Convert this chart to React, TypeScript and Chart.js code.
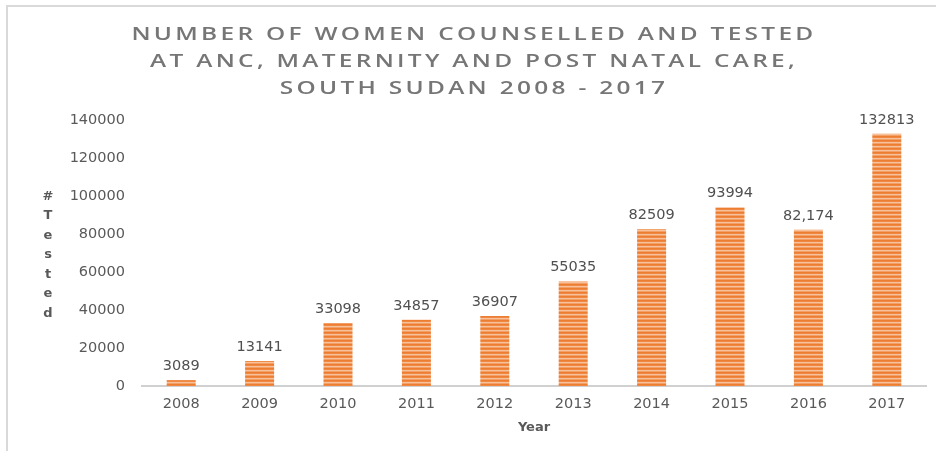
import React, { useEffect, useRef } from "react";
import { Chart, registerables } from "chart.js";

Chart.register(...registerables);

const years = ["2008", "2009", "2010", "2011", "2012", "2013", "2014", "2015", "2016", "2017"];
const tested = [3089, 13141, 33098, 34857, 36907, 55035, 82509, 93994, 82174, 132813];
const valueLabels = ["3089", "13141", "33098", "34857", "36907", "55035", "82509", "93994", "82,174", "132813"];
const titleLines = [
  "NUMBER OF WOMEN COUNSELLED AND TESTED",
  "AT ANC, MATERNITY AND POST NATAL CARE,",
  "SOUTH SUDAN 2008 - 2017",
];
const yTitleLetters = ["#", "T", "e", "s", "t", "e", "d"];
const xTitle = "Year";

const FONT = "'DejaVu Sans', Verdana, sans-serif";

function makePattern(): CanvasPattern | string {
  const c = document.createElement("canvas");
  c.width = 4;
  c.height = 4;
  const g = c.getContext("2d");
  if (!g) return "#ED7D31";
  const rows = ["#ED7D31", "#EF8842", "#F7C19B", "#F2A068"];
  rows.forEach((col, i) => {
    g.fillStyle = col;
    g.fillRect(0, i, 4, 1);
  });
  return g.createPattern(c, "repeat") || "#ED7D31";
}

export default function App() {
  const ref = useRef<HTMLCanvasElement | null>(null);

  useEffect(() => {
    document.body.style.margin = "0";
    if (!ref.current) return;

    const labelPlugin = {
      id: "extras",
      afterDatasetsDraw(chart: any) {
        const ctx = chart.ctx;
        const meta = chart.getDatasetMeta(0);
        ctx.save();
        ctx.font = `14.5px ${FONT}`;
        ctx.fillStyle = "#505050";
        ctx.textAlign = "center";
        ctx.textBaseline = "alphabetic";
        meta.data.forEach((bar: any, i: number) => {
          ctx.fillText(valueLabels[i], bar.x, bar.y - 10);
        });
        // stacked vertical y-axis title
        ctx.font = `bold 13px ${FONT}`;
        ctx.fillStyle = "#595959";
        ctx.textBaseline = "middle";
        const area = chart.chartArea;
        const mid = (area.top + area.bottom) / 2 + 2;
        const step = 19.5;
        const start = mid - ((yTitleLetters.length - 1) * step) / 2;
        yTitleLetters.forEach((ch, i) => {
          ctx.fillText(ch, 48, start + i * step);
        });
        ctx.restore();
      },
    };

    const chart = new Chart(ref.current, {
      type: "bar",
      data: {
        labels: years,
        datasets: [
          {
            data: tested,
            backgroundColor: makePattern() as any,
            borderWidth: 0,
            categoryPercentage: 1,
            barPercentage: 0.37,
          },
        ],
      },
      options: {
        animation: false,
        responsive: false,
        devicePixelRatio: 1,
        layout: { padding: { left: 0, right: 10, top: 120, bottom: 16 } },
        plugins: {
          legend: { display: false },
          tooltip: { enabled: false },
          title: { display: false },
        },
        scales: {
          x: {
            afterFit(scale: any) {
              scale.height = 49;
            },
            grid: { display: false, drawTicks: false },
            border: { display: true, color: "#d0d0d0", width: 2 },
            ticks: {
              color: "#595959",
              font: { family: FONT, size: 14.5 },
              padding: 10,
            },
            title: {
              display: true,
              text: xTitle,
              color: "#595959",
              font: { family: FONT, size: 13, weight: "bold" },
              padding: { top: 0, bottom: 0 },
            },
          },
          y: {
            min: 0,
            max: 140000,
            afterFit(scale: any) {
              scale.width = 142;
            },
            grid: { display: false, drawTicks: false },
            border: { display: false },
            ticks: {
              stepSize: 20000,
              color: "#595959",
              font: { family: FONT, size: 14.5 },
              padding: 17,
              callback: (v: any) => String(v),
            },
          },
        },
      },
      plugins: [labelPlugin],
    });

    return () => chart.destroy();
  }, []);

  return (
    <div style={{ position: "relative", width: 936, height: 451, background: "#fff", overflow: "hidden" }}>
      <div
        style={{
          position: "absolute",
          left: 6,
          top: 5,
          right: -4,
          bottom: -4,
          borderTop: "2px solid #d9d9d9",
          borderLeft: "2px solid #d9d9d9",
        }}
      />
      <canvas ref={ref} width={936} height={451} style={{ position: "absolute", left: 0, top: 0 }} />
      <div
        style={{
          position: "absolute",
          left: 16,
          top: 19,
          width: 916,
          textAlign: "center",
          fontFamily: "'Open Sans', sans-serif",
          fontSize: 18.5,
          fontWeight: 600,
          letterSpacing: 2.5,
          lineHeight: "27px",
          color: "#767676",
          transform: "scaleX(1.32)",
          transformOrigin: "center",
        }}
      >
        {titleLines.map((l, i) => (
          <div key={i}>{l}</div>
        ))}
      </div>
    </div>
  );
}
